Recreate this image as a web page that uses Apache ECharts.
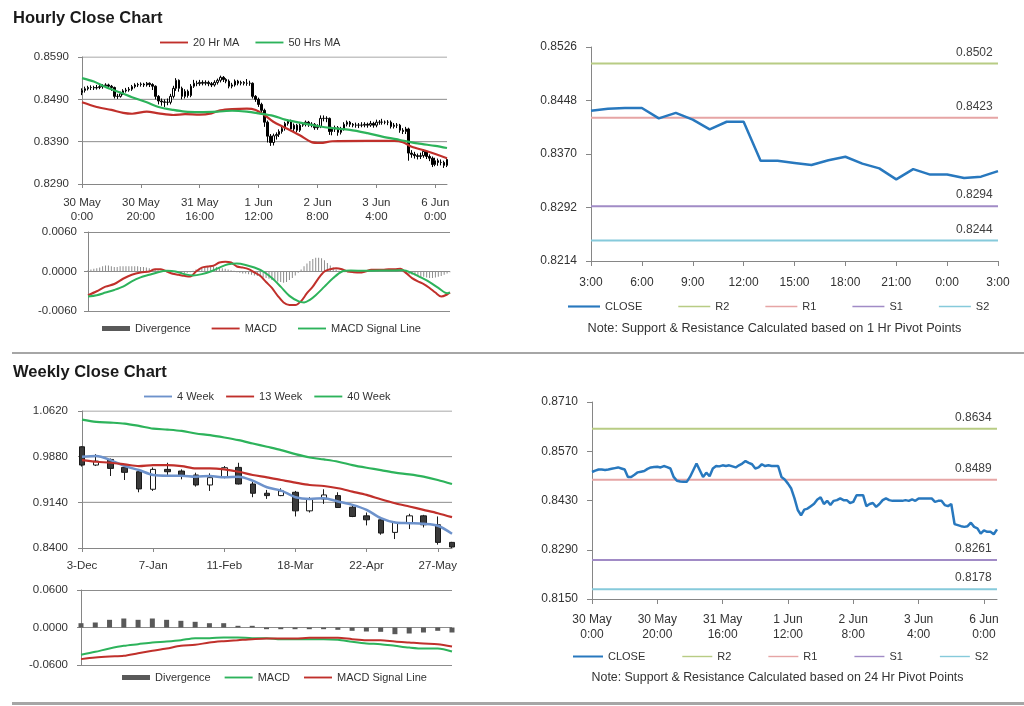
<!DOCTYPE html>
<html><head><meta charset="utf-8">
<script src="https://cdn.jsdelivr.net/npm/echarts@6.0.0/dist/echarts.min.js"></script>
<style>html,body{margin:0;padding:0;background:#fff;overflow:hidden}.c{position:absolute;left:0;top:0;width:1024px;height:706px}</style>
</head><body>
<div id="c1" class="c"></div><div id="c2" class="c"></div><div id="c3" class="c"></div><div id="c4" class="c"></div>
<script>
// ---------------- DATA ----------------
// Hourly (30 May 0:00 .. 6 Jun 4:00), 125 hourly points
const hourTicks = ['30 May\n0:00','30 May\n20:00','31 May\n16:00','1 Jun\n12:00','2 Jun\n8:00','3 Jun\n4:00','6 Jun\n0:00'];
const hourOpenFirst = 0.8506;
const hourClose = [.8511,.8515,.8518,.8518,.8517,.8518,.8520,.8522,.8524,.8521,
.8518,.8497,.8497,.8503,.8510,.8512,.8514,.8520,.8524,.8525,
.8526,.8524,.8528,.8525,.8521,.8497,.8486,.8484,.8483,.8483,
.8497,.8516,.8535,.8516,.8497,.8509,.8499,.8521,.8528,.8527,
.8530,.8528,.8530,.8527,.8524,.8530,.8535,.8542,.8537,.8533,
.8521,.8524,.8533,.8528,.8530,.8528,.8528,.8528,.8497,.8490,
.8478,.8464,.8436,.8403,.8388,.8404,.8407,.8414,.8421,.8433,
.8439,.8420,.8429,.8417,.8429,.8431,.8436,.8431,.8431,.8423,
.8426,.8445,.8445,.8445,.8414,.8420,.8423,.8412,.8420,.8431,
.8436,.8431,.8429,.8429,.8429,.8429,.8431,.8429,.8433,.8429,
.8436,.8436,.8436,.8436,.8436,.8426,.8429,.8429,.8417,.8414,
.8420,.8363,.8360,.8357,.8355,.8357,.8367,.8355,.8351,.8336,
.8345,.8341,.8341,.8334,.8348];
const hourHigh = [.8516,.8520,.8522,.8523,.8522,.8524,.8525,.8526,.8528,.8527,
.8524,.8520,.8503,.8508,.8514,.8517,.8519,.8524,.8528,.8529,
.8530,.8529,.8531,.8530,.8528,.8523,.8500,.8492,.8490,.8492,
.8503,.8522,.8540,.8537,.8520,.8514,.8513,.8526,.8536,.8534,
.8536,.8535,.8535,.8534,.8531,.8535,.8539,.8546,.8545,.8540,
.8537,.8529,.8537,.8536,.8534,.8533,.8538,.8534,.8530,.8500,
.8494,.8482,.8468,.8440,.8408,.8409,.8412,.8419,.8425,.8437,
.8443,.8442,.8433,.8432,.8433,.8436,.8440,.8439,.8436,.8434,
.8431,.8452,.8452,.8450,.8447,.8425,.8428,.8427,.8425,.8436,
.8440,.8439,.8434,.8435,.8434,.8436,.8436,.8435,.8439,.8437,
.8442,.8441,.8444,.8440,.8441,.8440,.8434,.8434,.8432,.8422,
.8425,.8423,.8370,.8366,.8362,.8364,.8372,.8370,.8360,.8355,
.8352,.8350,.8348,.8345,.8353];
const hourLow = [.8500,.8506,.8511,.8512,.8512,.8513,.8514,.8515,.8518,.8516,
.8510,.8492,.8491,.8494,.8500,.8506,.8508,.8510,.8516,.8519,
.8520,.8519,.8520,.8519,.8512,.8490,.8478,.8475,.8472,.8476,
.8478,.8492,.8510,.8508,.8490,.8492,.8494,.8495,.8517,.8521,
.8522,.8523,.8523,.8521,.8519,.8520,.8525,.8530,.8531,.8528,
.8516,.8516,.8520,.8523,.8523,.8523,.8522,.8522,.8492,.8484,
.8472,.8458,.8425,.8388,.8380,.8381,.8395,.8401,.8409,.8416,
.8428,.8415,.8415,.8412,.8413,.8425,.8426,.8425,.8424,.8418,
.8418,.8422,.8438,.8436,.8406,.8405,.8413,.8404,.8407,.8416,
.8426,.8425,.8424,.8423,.8422,.8424,.8424,.8423,.8425,.8423,
.8424,.8430,.8430,.8431,.8429,.8421,.8421,.8422,.8411,.8408,
.8408,.8345,.8352,.8350,.8348,.8349,.8352,.8349,.8344,.8330,
.8332,.8333,.8334,.8328,.8330];
const ma20Idx = [0,5,10,14,17,22,26,31,35,40,44,47,51,56,59,62,65,69,74,78,81,85,97,106,109,112,117,124];
const ma20Vals = [0.8483,0.8472,0.8465,0.8458,0.8456,0.8461,0.8457,0.8453,0.8455,0.8454,0.8457,0.8464,0.8467,0.8468,0.8465,0.8453,0.8437,0.8423,0.8405,0.8389,0.8387,0.8391,0.8392,0.8392,0.8389,0.8378,0.8368,0.8351];
const ma50Idx = [0,4,8,13,17,22,26,31,35,40,46,51,56,60,65,69,74,80,85,91,97,102,108,114,120,124];
const ma50Vals = [0.8540,0.8532,0.8519,0.8506,0.8495,0.8483,0.8472,0.8465,0.8461,0.8460,0.8461,0.8463,0.8461,0.8457,0.8451,0.8442,0.8435,0.8427,0.8422,0.8418,0.8410,0.8402,0.8394,0.8386,0.8380,0.8375];
const hourYTicks = [0.8290,0.8390,0.8490,0.8590];
const hourDiv = [0.0002,0.0003,0.0004,0.0005,0.0006,0.0008,0.0009,0.0009,0.0008,0.0007,0.0007,0.0008,0.0008,0.0008,0.0008,0.0008,0.0008,0.0008,0.0007,0.0007,0.0006,
0.0005,0.0004,0.0003,0.0002,0.0001,0.0001,0,0,-0.0001,-0.0001,
-0.0002,-0.0003,-0.0003,-0.0002,-0.0001,0.0001,0.0003,
0.0004,0.0005,0.0006,0.0007,0.0007,0.0008,0.0007,0.0006,0.0005,0.0004,0.0003,0.0002,0.0001,
-0.0001,-0.0002,-0.0003,-0.0003,-0.0004,-0.0005,-0.0006,-0.0007,-0.0008,-0.0009,-0.0010,-0.0011,
-0.0013,-0.0014,-0.0015,-0.0016,-0.0017,-0.0016,-0.0013,-0.0010,-0.0006,
-0.0002,0.0003,0.0008,0.0012,
0.0016,0.0019,0.0021,0.0021,0.0020,0.0017,0.0013,
0.0009,0.0006,0.0003,0.0001,0,-0.0001,
-0.0001,-0.0001,0,0,0,0,0.0001,0.0001,0.0001,0,0,0,0,0,0,0.0001,0.0001,0.0001,0,-0.0001,
-0.0002,-0.0004,-0.0005,-0.0006,-0.0007,-0.0008,-0.0008,-0.0009,-0.0010,-0.0010,-0.0009,-0.0008,-0.0007,-0.0005,-0.0003,-0.0001];
const macdIdx = [0,3,6,9,12,15,18,21,23,25,27,29,31,33,35,37,39,41,43,45,47,49,51,53,55,57,59,61,63,65,67,69,71,73,75,77,79,81,83,85,87,89,91,93,95,97,99,101,103,105,107,109,111,113,115,117,119,121,123,124];
const macdVals = [-0.0036,-0.0030,-0.0023,-0.0019,-0.0011,-0.0005,-0.00015,0,0.00035,0.00035,0,-0.00035,-0.0005,-0.00066,-0.00076,0,0.0006,0.00076,0.0009,0.00137,0.0015,0.00137,0.00076,0.0006,0.00035,-0.00015,-0.00066,-0.0016,-0.0025,-0.0037,-0.0047,-0.0051,-0.0051,-0.0045,-0.0033,-0.0023,-0.0010,0,0.00035,0.0005,0.00035,0,-0.0001,-0.00015,0,0.00025,0.00025,0.00025,0.00035,0.00035,0.0004,-0.00025,-0.0010,-0.0015,-0.0019,-0.0025,-0.0032,-0.0038,-0.0035,-0.0032];
const sigIdx = [0,3,6,9,12,15,18,21,24,27,30,33,36,39,42,45,48,51,54,57,60,63,66,69,72,74,76,78,81,84,87,90,95,100,105,108,111,114,117,120,123,124];
const sigVals = [-0.0038,-0.0036,-0.0032,-0.0028,-0.0023,-0.0015,-0.0009,-0.0005,-0.0001,0.0001,0,-0.0004,-0.0006,-0.0004,0,0.0006,0.0011,0.0012,0.0010,0.0006,0,-0.0010,-0.0023,-0.0037,-0.0045,-0.0047,-0.0043,-0.0036,-0.0023,-0.0010,0,0.00015,0.0001,0.00015,0.00015,0.0002,-0.00025,-0.0009,-0.0016,-0.0025,-0.0033,-0.0032];

// 1 Hr pivot panel
const pivHourLabels = ['3:00','4:00','5:00','6:00','7:00','8:00','9:00','10:00','11:00','12:00','13:00','14:00','15:00','16:00','17:00','18:00','19:00','20:00','21:00','22:00','23:00','0:00','1:00','2:00','3:00'];
const pivHourClose = [0.8433,0.8436,0.8437,0.8437,0.8422,0.8430,0.8420,0.8406,0.8417,0.8417,0.8360,0.8360,0.8357,0.8354,0.8361,0.8366,0.8356,0.8349,0.8333,0.8348,0.8340,0.8340,0.8335,0.8337,0.8345];
const pivHourLevels = [0.8502,0.8423,0.8294,0.8244];
const pivHourYTicks = [0.8214,0.8292,0.8370,0.8448,0.8526];

// Weekly
const weekLabels = ['3-Dec','10-Dec','17-Dec','24-Dec','31-Dec','7-Jan','14-Jan','21-Jan','28-Jan','4-Feb','11-Feb','18-Feb','25-Feb','4-Mar','11-Mar','18-Mar','25-Mar','1-Apr','8-Apr','15-Apr','22-Apr','29-Apr','6-May','13-May','20-May','27-May','3-Jun'];
const wOpen = [1.0040,0.9744,0.9835,0.9706,0.9636,0.9352,0.9674,0.9647,0.9583,0.9421,0.9556,0.9706,0.9437,0.9287,0.9249,0.9303,0.9002,0.9196,0.9249,0.9061,0.8921,0.8857,0.8653,0.8803,0.8921,0.8776,0.8491];
const wClose = [0.9744,0.9808,0.9690,0.9626,0.9357,0.9674,0.9636,0.9583,0.9421,0.9540,0.9701,0.9437,0.9287,0.9249,0.9325,0.9002,0.9196,0.9260,0.9056,0.8911,0.8857,0.8642,0.8814,0.8921,0.8776,0.8491,0.8416];
const wLow = [0.9720,0.9728,0.9567,0.9502,0.9303,0.9325,0.9583,0.9513,0.9395,0.9325,0.9529,0.9430,0.9223,0.9196,0.9240,0.8911,0.8975,0.9115,0.9050,0.8900,0.8766,0.8615,0.8545,0.8707,0.8733,0.8454,0.8400];
const wHigh = [1.0050,0.9920,0.9850,0.9728,0.9653,0.9706,0.9781,0.9674,0.9620,0.9610,0.9728,0.9781,0.9475,0.9341,0.9368,0.9325,0.9223,0.9351,0.9303,0.9099,0.8975,0.8868,0.8830,0.8954,0.8937,0.8911,0.8500];
const wMa4 = [0.9878,0.9889,0.9825,0.9728,0.9663,0.9583,0.9572,0.9572,0.9556,0.9567,0.9545,0.9556,0.9491,0.9384,0.9330,0.9223,0.9196,0.9207,0.9153,0.9099,0.9018,0.8884,0.8814,0.8803,0.8792,0.8760,0.8631];
const wMa13 = [0.9825,0.9798,0.9781,0.9755,0.9728,0.9744,0.9744,0.9728,0.9690,0.9690,0.9674,0.9636,0.9583,0.9545,0.9502,0.9459,0.9421,0.9405,0.9368,0.9314,0.9260,0.9190,0.9126,0.9072,0.9018,0.8964,0.8900];
const wMa40 = [1.0480,1.0443,1.0432,1.0416,1.0378,1.0335,1.0319,1.0297,1.0255,1.0228,1.0190,1.0147,1.0093,1.0040,0.9986,0.9921,0.9867,0.9835,0.9798,0.9744,0.9701,0.9663,0.9620,0.9593,0.9556,0.9502,0.9437];
const weekYTicks = [0.8400,0.9140,0.9880,1.0620];
const wDiv = [0.0069,0.0080,0.0123,0.0144,0.0123,0.0144,0.0123,0.0107,0.0091,0.0069,0.0069,0.0027,0.0027,-0.0027,-0.0027,-0.0027,-0.0027,-0.0027,-0.0037,-0.0053,-0.0064,-0.0069,-0.0107,-0.0096,-0.0080,-0.0053,-0.0080];
const wMacd = [-0.0437,-0.0389,-0.0336,-0.0293,-0.0267,-0.0240,-0.0224,-0.0203,-0.0171,-0.0171,-0.0160,-0.0160,-0.0171,-0.0171,-0.0187,-0.0187,-0.0187,-0.0187,-0.0197,-0.0229,-0.0256,-0.0267,-0.0293,-0.0320,-0.0336,-0.0336,-0.0384];
const wSig = [-0.0506,-0.0480,-0.0464,-0.0453,-0.0411,-0.0373,-0.0336,-0.0293,-0.0277,-0.0240,-0.0219,-0.0203,-0.0187,-0.0176,-0.0176,-0.0176,-0.0165,-0.0165,-0.0165,-0.0187,-0.0203,-0.0203,-0.0224,-0.0240,-0.0256,-0.0267,-0.0304];

// 24 Hr pivot panel (uses hourly closes)
const piv24Levels = [0.8634,0.8489,0.8261,0.8178];
const piv24YTicks = [0.8150,0.8290,0.8430,0.8570,0.8710];
const pivNames = ['R2','R1','S1','S2'];

// ---------------- STYLE HELPERS ----------------
const FONT = 'Liberation Sans, Arial, sans-serif';
const TXT = '#333333';
const AXC = '#868686';
const GRC = '#8c8c8c';
const RED = '#C0302B', GREEN = '#2DB35B', BLUE = '#2878BE', LBLUE = '#6D92CB';
const pivColors = ['#B8CC84','#E6A5A5','#A18BC6','#86CADB'];
const ICON_LINE = 'path://M0 0H30V2H0Z';
const ICON_THIN = 'path://M0 0H32V1.5H0Z';
const ICON_BAR = 'path://M0 0H28V5H0Z';

const pairs = (idx, vals) => idx.map((x, k) => [x, vals[k]]);
const fmt4 = v => Number(v).toFixed(4);
const lab = (o) => Object.assign({color: TXT, fontSize: 11.5, fontFamily: FONT}, o || {});
const legendText = {color: TXT, fontSize: 11, fontFamily: FONT};
const legendBase = {padding: 0, itemWidth: 28, itemHeight: 14, itemStyle: {borderWidth: 0}, textStyle: legendText};

function gridSeries(xi, yi, values, lastIdx) {
  return values.map(v => ({type: 'line', xAxisIndex: xi, yAxisIndex: yi, silent: true, z: 1,
    data: [[0, v], [lastIdx, v]], symbol: 'none', lineStyle: {color: GRC, width: 1}}));
}
function pivotSeries(levels, lastIdx) {
  return pivNames.map((n, k) => ({name: n, type: 'line', silent: true, z: 2,
    data: [[0, levels[k]], [lastIdx, levels[k]]], symbol: 'none',
    lineStyle: {color: pivColors[k], width: 2}, itemStyle: {color: pivColors[k]},
    endLabel: {show: true, formatter: () => fmt4(levels[k]), offset: [-50, -11],
      color: '#404040', fontSize: 12, fontFamily: FONT}}));
}
function valueAxis(o) {
  return Object.assign({type: 'value', scale: true,
    axisLine: {show: true, lineStyle: {color: AXC}},
    axisTick: {show: true, length: 4, lineStyle: {color: AXC}},
    splitLine: {show: false}}, o);
}
const lineLegend = names => names.map(n => ({name: n, icon: ICON_LINE}));
const macdLegend = () => [{name: 'Divergence', icon: ICON_BAR, itemStyle: {color: '#595959'}}].concat(lineLegend(['MACD', 'MACD Signal Line']));
const pivLegend = () => [{name: 'CLOSE', icon: ICON_LINE}].concat(pivNames.map(n => ({name: n, icon: ICON_THIN})));

const hourCats = hourClose.map((_, i) => i);
const hourLast = hourCats.length - 1;
const hourOpen = [hourOpenFirst].concat(hourClose.slice(0, -1));
const hourOHLC = hourClose.map((c, i) => [hourOpen[i], c, hourLow[i], hourHigh[i]]);
const weekOHLC = wClose.map((c, i) => [wOpen[i], c, wLow[i], wHigh[i]]);
const weekLast = weekLabels.length - 1;

// ---------------- CHART 1: hourly candles + MACD ----------------
const titleStyle = {fontSize: 16.5, fontWeight: 'bold', color: '#1a1a1a', fontFamily: FONT};
const opt1 = {
  animation: false,
  textStyle: {fontFamily: FONT},
  title: [
    {text: 'Hourly Close Chart', left: 8, top: 5, textStyle: titleStyle},
    {text: 'Weekly Close Chart', left: 8, top: 359, textStyle: titleStyle}
  ],
  graphic: [
    {type: 'line', silent: true, shape: {x1: 12, y1: 353, x2: 1024, y2: 353}, style: {stroke: '#a6a6a6', lineWidth: 2}},
    {type: 'line', silent: true, shape: {x1: 12, y1: 703.5, x2: 1024, y2: 703.5}, style: {stroke: '#a6a6a6', lineWidth: 3}}
  ],
  legend: [
    Object.assign({data: lineLegend(['20 Hr MA','50 Hrs MA']), left: 160, top: 37, itemGap: 16}, legendBase),
    Object.assign({data: macdLegend(), left: 102, top: 323, itemGap: 21}, legendBase)
  ],
  grid: [
    {left: 82, top: 57, width: 365, height: 127},
    {left: 88, top: 232, width: 362, height: 79}
  ],
  xAxis: [
    {type: 'category', gridIndex: 0, data: hourCats, boundaryGap: false,
     axisLine: {lineStyle: {color: AXC}},
     axisTick: {interval: 19, length: 4, lineStyle: {color: AXC}},
     axisLabel: lab({interval: 19, margin: 12, lineHeight: 14, formatter: (v, i) => hourTicks[Math.round(i / 20)]})},
    {type: 'category', gridIndex: 1, data: hourCats, boundaryGap: false,
     axisLine: {show: false}, axisTick: {show: false}, axisLabel: {show: false}}
  ],
  yAxis: [
    valueAxis({gridIndex: 0, min: hourYTicks[0], max: hourYTicks[hourYTicks.length - 1],
      axisTick: {show: true, length: 4, lineStyle: {color: AXC}, customValues: hourYTicks},
      axisLabel: lab({customValues: hourYTicks, formatter: fmt4, margin: 13})}),
    valueAxis({gridIndex: 1, scale: false, min: -0.006, max: 0.006, interval: 0.006,
      splitLine: {show: true, lineStyle: {color: GRC}},
      axisLabel: lab({formatter: fmt4, margin: 11})})
  ],
  series: gridSeries(0, 0, hourYTicks.slice(1), hourLast).concat([
    {name: 'Hourly', type: 'candlestick', xAxisIndex: 0, yAxisIndex: 0, data: hourOHLC, barWidth: 2, z: 3,
     itemStyle: {color: '#ffffff', color0: '#000000', borderColor: '#000000', borderColor0: '#000000', borderWidth: 1}},
    {name: '20 Hr MA', type: 'line', xAxisIndex: 0, yAxisIndex: 0, data: pairs(ma20Idx, ma20Vals), smooth: 0.3, symbol: 'none', z: 4,
     lineStyle: {color: RED, width: 2.2}, itemStyle: {color: RED}},
    {name: '50 Hrs MA', type: 'line', xAxisIndex: 0, yAxisIndex: 0, data: pairs(ma50Idx, ma50Vals), smooth: 0.3, symbol: 'none', z: 4,
     lineStyle: {color: GREEN, width: 2.2}, itemStyle: {color: GREEN}},
    {name: 'Divergence', type: 'bar', xAxisIndex: 1, yAxisIndex: 1, data: hourDiv, barWidth: 1, itemStyle: {color: '#8c8c8c'}},
    {name: 'MACD', type: 'line', xAxisIndex: 1, yAxisIndex: 1, data: pairs(macdIdx, macdVals), smooth: 0.3, symbol: 'none',
     lineStyle: {color: RED, width: 2}, itemStyle: {color: RED}},
    {name: 'MACD Signal Line', type: 'line', xAxisIndex: 1, yAxisIndex: 1, data: pairs(sigIdx, sigVals), smooth: 0.3, symbol: 'none',
     lineStyle: {color: GREEN, width: 2}, itemStyle: {color: GREEN}}
  ])
};

// ---------------- CHART 2: 1 Hr pivot ----------------
const opt2 = {
  animation: false,
  textStyle: {fontFamily: FONT},
  graphic: [{type: 'text', x: 774.5, y: 328, silent: true,
    style: {text: 'Note: Support & Resistance Calculated based on 1 Hr Pivot Points', font: '12.7px ' + FONT, fill: TXT,
      align: 'center', verticalAlign: 'middle'}}],
  legend: Object.assign({data: pivLegend(), left: 568, top: 301, itemGap: 36}, legendBase, {itemWidth: 32}),
  grid: {left: 591, top: 47, width: 407, height: 214},
  xAxis: {type: 'category', data: pivHourLabels, boundaryGap: false,
    axisLine: {lineStyle: {color: AXC}},
    axisTick: {interval: 2, length: 5, lineStyle: {color: AXC}},
    axisLabel: lab({interval: 2, margin: 16, fontSize: 12})},
  yAxis: valueAxis({min: pivHourYTicks[0], max: pivHourYTicks[pivHourYTicks.length - 1],
    axisTick: {show: true, length: 5, lineStyle: {color: AXC}, customValues: pivHourYTicks},
    axisLabel: lab({customValues: pivHourYTicks, formatter: fmt4, margin: 14, fontSize: 12})}),
  series: [{name: 'CLOSE', type: 'line', data: pivHourClose, symbol: 'none', z: 4,
    lineStyle: {color: BLUE, width: 2.5}, itemStyle: {color: BLUE}}].concat(pivotSeries(pivHourLevels, pivHourLabels.length - 1))
};

// ---------------- CHART 3: weekly candles + MACD ----------------
const opt3 = {
  animation: false,
  textStyle: {fontFamily: FONT},
  legend: [
    Object.assign({data: lineLegend(['4 Week','13 Week','40 Week']), left: 144, top: 391, itemGap: 12}, legendBase),
    Object.assign({data: macdLegend(), left: 122, top: 672, itemGap: 14}, legendBase)
  ],
  grid: [
    {left: 82, top: 411, width: 370, height: 137},
    {left: 81, top: 590, width: 371, height: 75}
  ],
  xAxis: [
    {type: 'category', gridIndex: 0, data: weekLabels, boundaryGap: false,
     axisLine: {lineStyle: {color: AXC}},
     axisTick: {interval: 4, length: 4, lineStyle: {color: AXC}},
     axisLabel: lab({interval: 4, margin: 12})},
    {type: 'category', gridIndex: 1, data: weekLabels, boundaryGap: false,
     axisLine: {show: false}, axisTick: {show: false}, axisLabel: {show: false}}
  ],
  yAxis: [
    valueAxis({gridIndex: 0, min: weekYTicks[0], max: weekYTicks[weekYTicks.length - 1],
      axisTick: {show: true, length: 4, lineStyle: {color: AXC}, customValues: weekYTicks},
      axisLabel: lab({customValues: weekYTicks, formatter: fmt4, margin: 14})}),
    valueAxis({gridIndex: 1, scale: false, min: -0.06, max: 0.06, interval: 0.06,
      splitLine: {show: true, lineStyle: {color: GRC}},
      axisLabel: lab({formatter: fmt4, margin: 13})})
  ],
  series: gridSeries(0, 0, weekYTicks.slice(1), weekLast).concat([
    {name: 'Weekly', type: 'candlestick', xAxisIndex: 0, yAxisIndex: 0, data: weekOHLC, barWidth: 6, z: 3,
     itemStyle: {color: '#ffffff', color0: '#3a3a3a', borderColor: '#1a1a1a', borderColor0: '#1a1a1a', borderWidth: 1}},
    {name: '4 Week', type: 'line', xAxisIndex: 0, yAxisIndex: 0, data: wMa4, smooth: 0.3, symbol: 'none', z: 4,
     lineStyle: {color: LBLUE, width: 2.5}, itemStyle: {color: LBLUE}},
    {name: '13 Week', type: 'line', xAxisIndex: 0, yAxisIndex: 0, data: wMa13, smooth: 0.3, symbol: 'none', z: 4,
     lineStyle: {color: RED, width: 2.2}, itemStyle: {color: RED}},
    {name: '40 Week', type: 'line', xAxisIndex: 0, yAxisIndex: 0, data: wMa40, smooth: 0.3, symbol: 'none', z: 4,
     lineStyle: {color: GREEN, width: 2.2}, itemStyle: {color: GREEN}},
    {name: 'Divergence', type: 'bar', xAxisIndex: 1, yAxisIndex: 1, data: wDiv, barWidth: 5, itemStyle: {color: '#595959'}},
    {name: 'MACD', type: 'line', xAxisIndex: 1, yAxisIndex: 1, data: wMacd, smooth: 0.3, symbol: 'none',
     lineStyle: {color: GREEN, width: 2}, itemStyle: {color: GREEN}},
    {name: 'MACD Signal Line', type: 'line', xAxisIndex: 1, yAxisIndex: 1, data: wSig, smooth: 0.3, symbol: 'none',
     lineStyle: {color: RED, width: 2}, itemStyle: {color: RED}}
  ])
};

// ---------------- CHART 4: 24 Hr pivot ----------------
const opt4 = {
  animation: false,
  textStyle: {fontFamily: FONT},
  graphic: [{type: 'text', x: 777.5, y: 678, silent: true,
    style: {text: 'Note: Support & Resistance Calculated based on 24 Hr Pivot Points', font: '12.4px ' + FONT, fill: TXT,
      align: 'center', verticalAlign: 'middle'}}],
  legend: Object.assign({data: pivLegend(), left: 573, top: 651, itemGap: 37}, legendBase, {itemWidth: 30}),
  grid: {left: 592, top: 402, width: 405, height: 197},
  xAxis: {type: 'category', data: hourCats, boundaryGap: false,
    axisLine: {lineStyle: {color: AXC}},
    axisTick: {interval: 19, length: 5, lineStyle: {color: AXC}},
    axisLabel: lab({interval: 19, margin: 13, lineHeight: 15, fontSize: 12, formatter: (v, i) => hourTicks[Math.round(i / 20)]})},
  yAxis: valueAxis({min: piv24YTicks[0], max: piv24YTicks[piv24YTicks.length - 1],
    axisTick: {show: true, length: 5, lineStyle: {color: AXC}, customValues: piv24YTicks},
    axisLabel: lab({customValues: piv24YTicks, formatter: fmt4, margin: 14, fontSize: 12})}),
  series: [{name: 'CLOSE', type: 'line', data: hourClose, symbol: 'none', z: 4,
    lineStyle: {color: BLUE, width: 2.5}, itemStyle: {color: BLUE}}].concat(pivotSeries(piv24Levels, hourLast))
};

[['c1', opt1], ['c2', opt2], ['c3', opt3], ['c4', opt4]].forEach(([id, o]) => {
  echarts.init(document.getElementById(id), null, {renderer: 'canvas'}).setOption(o);
});
</script>
</body></html>
